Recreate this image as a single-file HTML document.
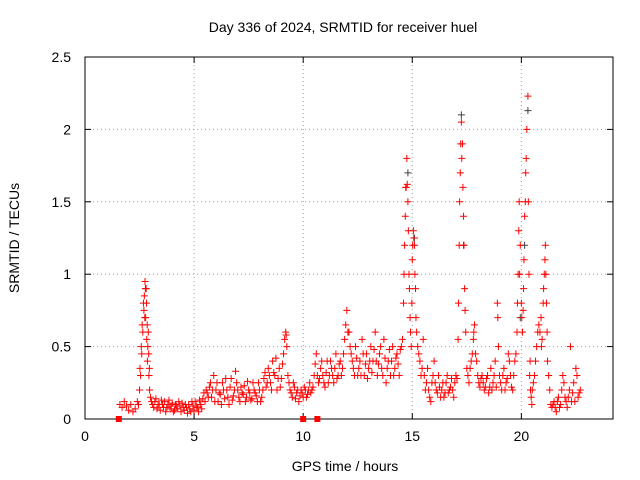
<!DOCTYPE html>
<html><head><meta charset="utf-8"><style>
body{margin:0;background:#fff}
svg{display:block;font-family:"Liberation Sans",sans-serif}
</style></head><body>
<svg id="chart" width="640" height="480">
<text x="343" y="32" font-size="14" text-anchor="middle">Day 336 of 2024, SRMTID for receiver huel</text>
<text x="345" y="471" font-size="14" text-anchor="middle">GPS time / hours</text>
<text x="19" y="238" font-size="14" text-anchor="middle" transform="rotate(-90 19 238)">SRMTID / TECUs</text>
<g id="grid"></g><g id="axes"></g><g id="marks"></g>
</svg>
<script>
const xTicks=[0,5,10,15,20];
const yTicks=[0,0.5,1,1.5,2,2.5];
const yTickLabels=["0","0.5","1","1.5","2","2.5"];
const redTimes=[1.6,1.7,1.8,1.9,2.0,2.1,2.2,2.3,2.4,2.5,2.55,2.6,2.65,2.7,2.72,2.75,2.78,2.8,2.83,2.86,2.9,2.93,2.96,3.0,3.1,3.2,3.3,3.4,3.5,3.6,3.7,3.8,3.9,4.0,4.1,4.2,4.3,4.4,4.5,4.6,4.7,4.8,4.9,5.0,5.1,5.2,5.3,5.4,5.5,5.6,5.7,5.8,5.9,6.0,6.1,6.2,6.3,6.4,6.5,6.6,6.7,6.8,6.9,7.0,7.1,7.2,7.3,7.4,7.5,7.6,7.7,7.8,7.9,8.0,8.1,8.2,8.3,8.4,8.5,8.6,8.7,8.8,8.9,9.0,9.1,9.2,9.25,9.3,9.4,9.5,9.6,9.7,9.8,9.9,10.0,10.1,10.2,10.3,10.4,10.5,10.6,10.7,10.8,10.9,11.0,11.1,11.2,11.3,11.4,11.5,11.6,11.7,11.8,11.9,12.0,12.1,12.2,12.3,12.4,12.5,12.6,12.7,12.8,12.9,13.0,13.1,13.2,13.3,13.4,13.5,13.6,13.7,13.8,13.9,14.0,14.1,14.2,14.3,14.4,14.5,14.6,14.65,14.7,14.75,14.8,14.85,14.9,14.95,15.0,15.05,15.1,15.15,15.2,15.3,15.4,15.5,15.6,15.7,15.8,15.9,16.0,16.1,16.2,16.3,16.4,16.5,16.6,16.7,16.8,16.9,17.0,17.1,17.15,17.2,17.25,17.3,17.35,17.4,17.45,17.5,17.6,17.7,17.8,17.85,17.9,18.0,18.1,18.2,18.3,18.4,18.5,18.6,18.7,18.8,18.9,18.95,19.0,19.1,19.2,19.3,19.4,19.5,19.6,19.7,19.8,19.85,19.9,19.95,20.0,20.05,20.1,20.15,20.2,20.25,20.3,20.35,20.4,20.45,20.5,20.6,20.7,20.8,20.9,20.95,21.0,21.05,21.1,21.15,21.2,21.3,21.4,21.5,21.6,21.7,21.8,21.9,22.0,22.1,22.2,22.25,22.3,22.4,22.5,22.6,22.7];
const redValues=[.1,.08,.12,.09,.06,.1,.05,.07,.12,.2,.3,.45,.6,.75,.85,.95,.7,.9,.55,.4,.6,.3,.2,.15,.1,.12,.07,.1,.13,.08,.05,.1,.07,.11,.06,.09,.12,.05,.08,.1,.04,.07,.12,.06,.09,.05,.1,.14,.12,.18,.22,.15,.3,.2,.12,.17,.25,.14,.2,.1,.28,.16,.33,.2,.12,.18,.23,.15,.2,.13,.25,.18,.12,.2,.15,.28,.22,.35,.25,.4,.3,.2,.35,.28,.45,.6,.5,.3,.2,.15,.22,.18,.12,.2,.15,.2,.17,.25,.2,.3,.45,.25,.35,.3,.22,.4,.3,.35,.25,.45,.3,.4,.35,.55,.75,.6,.45,.35,.5,.3,.4,.55,.3,.45,.35,.5,.4,.6,.3,.45,.35,.55,.25,.4,.3,.5,.35,.45,.3,.5,.8,1.2,1.6,1.8,1.5,1.0,.7,.5,1.1,1.3,1.2,.9,.6,.45,.3,.55,.2,.35,.15,.25,.4,.2,.3,.15,.25,.18,.3,.2,.28,.15,.3,.55,1.2,1.7,2.05,1.9,1.4,.9,.6,.35,.25,.4,.55,.65,.45,.3,.22,.3,.2,.28,.18,.35,.25,.4,.8,.5,.3,.2,.35,.25,.45,.3,.2,.4,.6,1.0,1.5,1.2,.8,.6,.9,1.4,1.7,2.0,2.23,1.0,.4,.15,.2,.3,.5,.65,.7,.55,.8,1.0,1.2,.8,.4,.2,.08,.12,.05,.15,.1,.3,.15,.08,.2,.5,.12,.25,.35,.15,.2];
const redTimesB=[2.45,2.52,2.58,2.62,2.68,2.74,2.77,2.82,2.85,2.88,2.92,2.95,3.05,3.15,3.25,3.35,3.45,3.55,3.65,3.75,3.85,3.95,4.05,4.15,4.25,4.35,4.45,4.55,4.65,4.75,4.85,4.95,5.05,5.15,5.25,5.35,5.45,5.55,5.65,5.75,5.85,5.95,6.05,6.15,6.25,6.35,6.45,6.55,6.65,6.75,6.85,6.95,7.05,7.15,7.25,7.35,7.45,7.55,7.65,7.75,7.85,7.95,8.05,8.15,8.25,8.35,8.45,8.55,8.65,8.75,8.85,8.95,9.05,9.15,9.22,9.35,9.45,9.55,9.65,9.75,9.85,9.95,10.05,10.15,10.25,10.35,10.45,10.55,10.65,10.75,10.85,10.95,11.05,11.15,11.25,11.35,11.45,11.55,11.65,11.75,11.85,11.95,12.05,12.15,12.25,12.35,12.45,12.55,12.65,12.75,12.85,12.95,13.05,13.15,13.25,13.35,13.45,13.55,13.65,13.75,13.85,13.95,14.05,14.15,14.25,14.35,14.45,14.55,14.62,14.68,14.72,14.77,14.82,14.87,14.92,14.98,15.02,15.07,15.12,15.17,15.25,15.35,15.45,15.55,15.65,15.75,15.85,15.95,16.05,16.15,16.25,16.35,16.45,16.55,16.65,16.75,16.85,16.95,17.05,17.12,17.17,17.22,17.27,17.32,17.37,17.42,17.55,17.65,17.75,17.82,17.95,18.05,18.15,18.25,18.35,18.45,18.55,18.65,18.75,18.85,18.92,19.05,19.15,19.25,19.35,19.45,19.55,19.65,19.75,19.82,19.88,19.92,20.02,20.08,20.12,20.18,20.22,20.32,20.38,20.42,20.48,20.55,20.65,20.75,20.85,20.92,21.02,21.08,21.12,21.18,21.25,21.35,21.45,21.55,21.65,21.75,21.85,21.95,22.05,22.15,22.35,22.45,22.55,22.65];
const redValuesB=[.1,.35,.5,.65,.8,.7,.9,.8,.65,.5,.45,.35,.12,.08,.14,.1,.06,.1,.12,.08,.13,.09,.05,.1,.07,.09,.11,.06,.08,.1,.05,.09,.12,.08,.13,.07,.18,.2,.15,.25,.2,.12,.25,.18,.1,.2,.28,.15,.22,.13,.2,.25,.15,.22,.17,.12,.26,.18,.14,.2,.16,.25,.12,.2,.32,.25,.3,.2,.32,.42,.28,.22,.38,.55,.58,.25,.18,.25,.14,.2,.16,.18,.22,.15,.2,.18,.22,.38,.3,.28,.4,.25,.32,.25,.4,.3,.35,.28,.38,.3,.45,.65,.6,.5,.4,.3,.42,.35,.3,.45,.38,.28,.4,.32,.48,.4,.38,.5,.3,.42,.35,.48,.4,.3,.42,.38,.48,.55,1.0,1.4,1.6,1.62,1.3,.9,.6,.8,1.2,1.25,1.0,.7,.5,.4,.35,.3,.25,.2,.12,.3,.25,.18,.22,.2,.15,.25,.18,.22,.2,.25,.28,.8,1.5,1.9,1.8,1.6,1.2,.75,.3,.35,.45,.6,.4,.25,.28,.25,.22,.3,.22,.2,.3,.22,.7,.25,.3,.2,.28,.4,.22,.3,.45,.8,1.3,1.0,.7,.75,1.1,1.5,1.8,1.5,.3,.2,.1,.25,.4,.6,.6,.5,.9,1.1,1.0,.6,.3,.1,.1,.08,.12,.08,.2,.25,.12,.15,.18,.12,.3,.18];
const blackTimes=[2.8,14.8,17.25,17.35,19.95,20.15,20.3,15.1];
const blackValues=[0.9,1.7,2.1,1.2,0.7,1.2,2.13,1.25];
const zeroTimes=[1.55,10.0,10.65];

const X0=85,X1=613,Y0=419,Y1=57,XMAX=24.2,YMAX=2.5;
const xs=t=>X0+(X1-X0)*t/XMAX;
const ys=v=>Y0-(Y0-Y1)*v/YMAX;
const NS="http://www.w3.org/2000/svg";
function mk(tag,attrs,parent){const e=document.createElementNS(NS,tag);for(const k in attrs)e.setAttribute(k,attrs[k]);parent.appendChild(e);return e;}
const grid=document.getElementById('grid'),axes=document.getElementById('axes'),marks=document.getElementById('marks');
xTicks.forEach((t,i)=>{
  const x=xs(t);
  if(t>0){const g=mk('line',{x1:x,x2:x,y1:Y1,y2:Y0,stroke:'#a0a0a0','stroke-dasharray':'1,3'},grid);
  
  }
  mk('line',{x1:x,x2:x,y1:Y0,y2:Y0-6,stroke:'#000'},axes);
  mk('line',{x1:x,x2:x,y1:Y1,y2:Y1+6,stroke:'#000'},axes);
  const tx=mk('text',{x:x,y:Y0+22,'font-size':14,'text-anchor':'middle'},axes);
  tx.textContent=String(t);
  
  
});
yTicks.forEach((v,i)=>{
  const y=ys(v);
  if(v>0&&v<YMAX){const g=mk('line',{x1:X0,x2:X1,y1:y,y2:y,stroke:'#a0a0a0','stroke-dasharray':'1,3'},grid);
  
  }
  mk('line',{x1:X0,x2:X0+6,y1:y,y2:y,stroke:'#000'},axes);
  mk('line',{x1:X1,x2:X1-6,y1:y,y2:y,stroke:'#000'},axes);
  const tx=mk('text',{x:X0-14,y:y+5,'font-size':14,'text-anchor':'end'},axes);
  tx.textContent=yTickLabels[i];
  
  
});
const frame=mk('rect',{x:X0,y:Y1,width:X1-X0,height:Y0-Y1,fill:'none',stroke:'#000'},axes);


function plus(t,v,c,name){
  const x=xs(t),y=ys(v);
  const p=mk('path',{d:`M${x-3.5},${y}H${x+3.5}M${x},${y-3.5}V${y+3.5}`,stroke:c,'stroke-width':1,fill:'none'},marks);
  
  
}
blackTimes.forEach((t,i)=>plus(t,blackValues[i],'#404040','srmtid-point-gps'));
redTimes.forEach((t,i)=>plus(t,redValues[i],'#ff0000','srmtid-point'));
redTimesB.forEach((t,i)=>plus(t,redValuesB[i],'#ff0000','srmtid-point'));
zeroTimes.forEach(t=>{
  const r=mk('rect',{x:xs(t)-3,y:Y0-3,width:6,height:6,fill:'#ff0000'},marks);
  
  
});
</script>
</body></html>
